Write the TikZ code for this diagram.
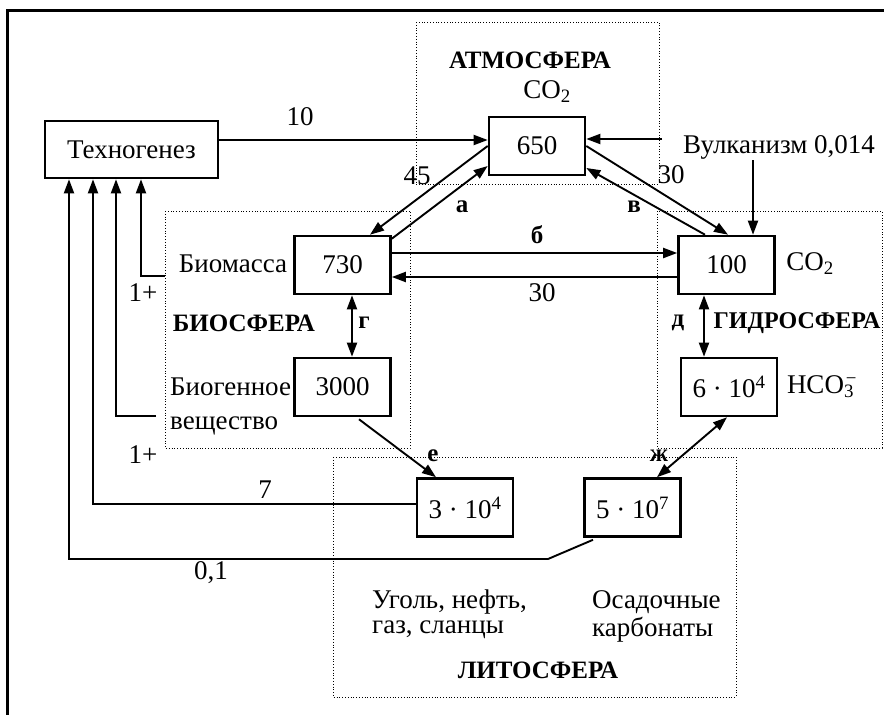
\documentclass[tikz,border=0pt]{standalone}
\usepackage{fontspec}
\setmainfont{Liberation Serif}
\usetikzlibrary{arrows.meta}
\tikzset{
  valbox/.style={draw, line width=2.6pt, minimum width=96pt, minimum height=58pt, inner sep=0pt, font=\fontsize{27}{29}\selectfont},
  sphere/.style={draw, dotted, line width=0.8pt},
  flow/.style={line width=1.9pt, -{Triangle[length=14pt,width=10pt]}},
  flowtwo/.style={line width=1.9pt, {Triangle[length=14pt,width=10pt]}-{Triangle[length=14pt,width=10pt]}},
  lbl/.style={font=\fontsize{27}{29}\selectfont, inner sep=0pt},
  blbl/.style={font=\bfseries\fontsize{25}{27}\selectfont, inner sep=0pt},
}
\begin{document}
\begin{tikzpicture}[x=1pt,y=-1pt]
\useasboundingbox (0,0) rectangle (884,715);
% frame
\draw[line width=3pt] (7,715) -- (7,10) -- (884,10);
% spheres
\draw[sphere] (416,22) rectangle (659,184);
\draw[sphere] (165,211) rectangle (410,448);
\draw[sphere] (657,211) rectangle (882,448);
\draw[sphere] (333,457) rectangle (736,697);
% boxes
\node[valbox, minimum width=173pt, minimum height=57pt] (tech) at (131.5,149.5) {Техногенез};
\node[valbox] (b650) at (537,146) {650};
\node[valbox] (b730) at (342.5,265) {730};
\node[valbox] (b100) at (726.5,265) {100};
\node[valbox] (b3000) at (342.5,387) {3000};
\node[valbox] (b6e4) at (729,387) {6 · 10\textsuperscript{4}};
\node[valbox] (b3e4) at (465,507.5) {3 · 10\textsuperscript{4}};
\node[valbox] (b5e7) at (632.5,507.5) {5 · 10\textsuperscript{7}};
% texts
\node[blbl] (tatm) at (530,60) {АТМОСФЕРА};
\node[lbl] (tco2a) at (547,92) {CO\textsubscript{2}};
\node[lbl] (tvulk) at (779,147) {Вулканизм 0,014};
\node[lbl] (tbiom) at (233,264) {Биомасса};
\node[blbl] (tbio) at (244,323) {БИОСФЕРА};
\node[lbl, anchor=west] (tbiog) at (170,387) {Биогенное};
\node[lbl, anchor=west] (tvesh) at (170,426) {вещество};
\node[lbl] (tco2h) at (810,264) {CO\textsubscript{2}};
\node[blbl, font=\bfseries\fontsize{24}{26}\selectfont] (thyd) at (797,323) {ГИДРОСФЕРА};
\node[lbl] (thco) at (822,387) {HCO\textsubscript{3}\kern-0.3em\textsuperscript{−}};
\node[lbl, anchor=west] (tugol) at (372,602) {Уголь, нефть,};
\node[lbl, anchor=west] (tgaz) at (372,630) {газ, сланцы};
\node[lbl, anchor=west] (tosad) at (592,602) {Осадочные};
\node[lbl, anchor=west] (tkarb) at (592,630) {карбонаты};
\node[blbl] (tlit) at (538,670) {ЛИТОСФЕРА};
% flow labels
\node[lbl] (l10) at (300,117) {10};
\node[lbl] (l45) at (417,176) {45};
\node[lbl] (l30a) at (671,175) {30};
\node[lbl] (l30b) at (542,293) {30};
\node[lbl] (l7) at (265,490) {7};
\node[lbl] (l01) at (211,573) {0,1};
\node[lbl] (l1a) at (143,293) {1+};
\node[lbl] (l1b) at (143,455) {1+};
\node[blbl] (la) at (462,207) {а};
\node[blbl] (lb) at (537,235) {б};
\node[blbl] (lv) at (634,207) {в};
\node[blbl] (lg) at (364,323) {г};
\node[blbl] (ld) at (678,323) {д};
\node[blbl] (le) at (433,456) {е};
\node[blbl] (lzh) at (659,456) {ж};
% free ends
\coordinate (volcH) at (662,139);
\coordinate (volcV) at (753,160);
\coordinate (bioA) at (165,276);
\coordinate (bioB) at (156,416);
\coordinate (c01) at (548,559);
% connectors
\draw[flow] ([yshift=9.5pt]tech.east) -- ([yshift=6pt]b650.west);
\draw[flow] (volcH) -- (volcH -| b650.east);
\draw[flow] (volcV) -- (volcV |- b100.north);
\draw[flow] (b650.west) -- ([xshift=27.5pt]b730.north);
\draw[flow] ([yshift=-4pt]b730.north east) -- ([yshift=-20pt]b650.west);
\draw[flow] (b650.east) -- ([xshift=1.5pt]b100.north);
\draw[flow] ([xshift=-21.5pt]b100.north) -- ([yshift=-22pt]b650.east);
\draw[flow] ([yshift=12pt]b730.east) -- ([yshift=12pt]b100.west);
\draw[flow] ([yshift=-12pt]b100.west) -- ([yshift=-12pt]b730.east);
\draw[flowtwo] ([xshift=9.5pt]b730.south) -- ([xshift=9.5pt]b3000.north);
\draw[flowtwo] ([xshift=-22.5pt]b100.south) -- ([xshift=-25pt]b6e4.north);
\draw[flow] ([xshift=16.5pt,yshift=-2pt]b3000.south) -- ([xshift=-29pt]b3e4.north);
\draw[flowtwo] ([xshift=24.5pt]b5e7.north) -- ([xshift=-2pt]b6e4.south);
\draw[flow] ([yshift=3.5pt]b3e4.west) -| ([xshift=-38.5pt]tech.south);
\draw[flow] ([xshift=-39.5pt,yshift=-2pt]b5e7.south) -- (c01) -| ([xshift=-62.5pt]tech.south);
\draw[flow] (bioB) -| ([xshift=-15.5pt]tech.south);
\draw[flow] (bioA) -| ([xshift=9.5pt]tech.south);
\end{tikzpicture}
\end{document}
